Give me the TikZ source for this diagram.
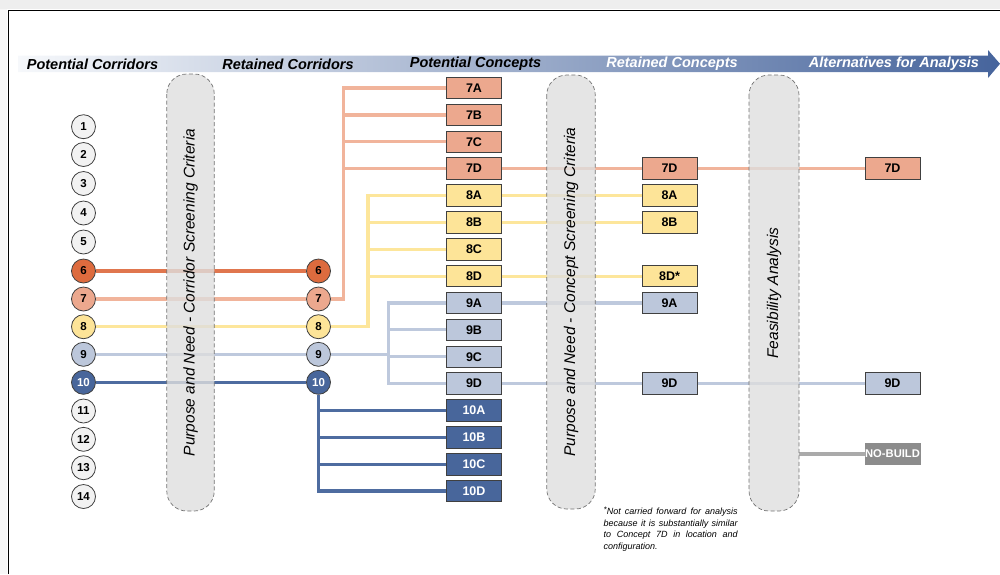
\documentclass[tikz,border=0pt]{standalone}
\usepackage{fontspec}
\setmainfont{Liberation Sans}
\usetikzlibrary{calc}
\definecolor{c6f}{RGB}{221,107,62}
\definecolor{c6l}{RGB}{224,118,78}
\definecolor{c7f}{RGB}{236,168,142}
\definecolor{c7l}{RGB}{241,180,155}
\definecolor{c8f}{RGB}{253,228,152}
\definecolor{c8l}{RGB}{253,230,155}
\definecolor{c9f}{RGB}{188,199,219}
\definecolor{c9l}{RGB}{190,201,221}
\definecolor{c10f}{RGB}{72,102,155}
\definecolor{c10l}{RGB}{78,108,160}
\definecolor{grayc}{RGB}{242,242,242}
\definecolor{pillc}{RGB}{222,222,222}
\definecolor{nbf}{RGB}{140,140,140}
\definecolor{nbl}{RGB}{170,170,170}
\definecolor{barL}{RGB}{246,248,251}
\definecolor{barR}{RGB}{70,100,156}
\pgfdeclarelayer{bg}
\pgfdeclarelayer{mid}
\pgfsetlayers{bg,mid,main}
\begin{document}
\begin{tikzpicture}[x=1pt,y=-1pt,
  circ/.style={circle, draw=black!75, line width=0.8pt, minimum size=24pt, inner sep=0pt,
    font=\fontsize{11.5}{12}\selectfont\bfseries},
  cbox/.style={rectangle, draw=black!75, line width=0.8pt, minimum width=55pt, minimum height=21.5pt,
    inner sep=0pt, font=\fontsize{12.5}{13}\selectfont\bfseries},
  pill/.style={rectangle, rotate=90, draw=black!55, dash pattern=on 4pt off 2.5pt, line width=0.7pt,
    fill=pillc, fill opacity=0.8, text opacity=1, rounded corners=20pt, inner sep=0pt,
    font=\fontsize{15.5}{18}\selectfont\itshape},
  head/.style={font=\fontsize{14.5}{16}\selectfont\bfseries\itshape, inner sep=0pt},
  conn/.style={line width=3.2pt}
]
\useasboundingbox (0,0) rectangle (1000,574);

% ---------- circles: potential corridors
\foreach \n/\y in {1/126.7,2/154.5,3/183.5,4/213,5/242,11/411,12/439.3,13/467.7,14/496.5}
  \node[circ, fill=grayc] (pc\n) at (83.5,\y) {\n};
\node[circ, fill=c6f] (pc6) at (83.5,271) {6};
\node[circ, fill=c7f] (pc7) at (83.5,299) {7};
\node[circ, fill=c8f] (pc8) at (83.5,326.7) {8};
\node[circ, fill=c9f] (pc9) at (83.5,354.3) {9};
\node[circ, fill=c10f, text=white] (pc10) at (83.5,382.3) {10};
% retained corridors
\node[circ, fill=c6f] (rc6) at (318.5,271) {6};
\node[circ, fill=c7f] (rc7) at (318.5,299) {7};
\node[circ, fill=c8f] (rc8) at (318.5,326.7) {8};
\node[circ, fill=c9f] (rc9) at (318.5,354.3) {9};
\node[circ, fill=c10f, text=white] (rc10) at (318.5,382.3) {10};

% ---------- potential concepts
\foreach \l/\y in {7A/88,7B/114.9,7C/141.7,7D/168.6}
  \node[cbox, fill=c7f] (k\l) at (474,\y) {\l};
\foreach \l/\y in {8A/195.5,8B/222.4,8C/249.2,8D/276.1}
  \node[cbox, fill=c8f] (k\l) at (474,\y) {\l};
\foreach \l/\y in {9A/303,9B/329.8,9C/356.7,9D/383.6}
  \node[cbox, fill=c9f] (k\l) at (474,\y) {\l};
\foreach \l/\y in {10A/410.4,10B/437.3,10C/464.2,10D/491}
  \node[cbox, fill=c10f, text=white] (k\l) at (474,\y) {\l};

% ---------- retained concepts
\node[cbox, fill=c7f] (r7D) at (669.5,168.6) {7D};
\node[cbox, fill=c8f] (r8A) at (669.5,195.5) {8A};
\node[cbox, fill=c8f] (r8B) at (669.5,222.4) {8B};
\node[cbox, fill=c8f] (r8D) at (669.5,276.1) {8D*};
\node[cbox, fill=c9f] (r9A) at (669.5,303) {9A};
\node[cbox, fill=c9f] (r9D) at (669.5,383.6) {9D};

% ---------- alternatives
\node[cbox, fill=c7f] (a7D) at (892.5,168.6) {7D};
\node[cbox, fill=c9f] (a9D) at (892.5,383.6) {9D};
\node[cbox, fill=nbf, text=white, draw=black!45, font=\fontsize{11.2}{12}\selectfont\bfseries] (anb) at (892.5,454) {NO-BUILD};

% ---------- headings
\node[head] (h1) at (92.5,64) {Potential Corridors};
\node[head] (h2) at (288,64) {Retained Corridors};
\node[head] (h3) at (475.5,64) {Potential Concepts};
\node[head, text=white] (h4) at (672,64) {Retained Concepts};
\node[head, text=white] (h5) at (894,64) {Alternatives for Analysis};

% ---------- footnote
\node[anchor=north west, inner sep=0pt, text width=134pt, align=justify,
  font=\fontsize{9}{11.5}\selectfont\itshape] (fn) at (603.5,508)
  {\smash{\raisebox{0.3em}{\fontsize{8}{8}\selectfont *}}Not carried forward for analysis\linebreak because it is substantially similar\linebreak to Concept 7D in location and\linebreak configuration.};

% ---------- screening pills
\begin{pgfonlayer}{mid}
\node[pill, minimum width=437pt, minimum height=47.5pt] (p1) at (190.5,292.5)
  {Purpose and Need - Corridor Screening Criteria};
\node[pill, minimum width=434pt, minimum height=48.5pt] (p2) at (571,292)
  {Purpose and Need - Concept Screening Criteria};
\node[pill, minimum width=436pt, minimum height=50pt] (p3) at (774,293)
  {Feasibility Analysis};
\end{pgfonlayer}

% ---------- background, frame and connectors
\begin{pgfonlayer}{bg}
\fill[gray!13] (0,0) rectangle (1000,8.5);
\fill[gray!6] (0,8.5) rectangle (7,574);
\draw[line width=1.6pt] (8.5,574) -- (8.5,10.5) -- (1000,10.5);
\shade[left color=barL, right color=barR]
  (18,55.5) -- (988,55.5) -- (988,50) -- (1000,63.8) -- (988,78) -- (988,72) -- (18,72) -- cycle;

\coordinate (b7) at (343.5,0);
\coordinate (b8) at (368,0);
\coordinate (b9) at (388.5,0);

\draw[conn, c6l] (pc6.east) -- (rc6.west);
\draw[conn, c7l] (pc7.east) -- (rc7.west);
\draw[conn, c8l] (pc8.east) -- (rc8.west);
\draw[conn, c9l] (pc9.east) -- (rc9.west);
\draw[conn, c10l] (pc10.east) -- (rc10.west);

% corridor 7
\draw[conn, c7l, line join=miter] (rc7.east) -- (rc7.east -| b7) -- (b7 |- k7A.west) -- (k7A.west);
\foreach \l in {7B,7C,7D} \draw[conn, c7l] (b7 |- k\l.west) -- (k\l.west);
% corridor 8
\draw[conn, c8l, line join=miter] (rc8.east) -- (rc8.east -| b8) -- (b8 |- k8A.west) -- (k8A.west);
\foreach \l in {8B,8C,8D} \draw[conn, c8l] (b8 |- k\l.west) -- (k\l.west);
% corridor 9
\draw[conn, c9l] (rc9.east) -- (rc9.east -| b9);
\draw[conn, c9l, line cap=rect] (b9 |- k9A.west) -- (b9 |- k9D.west);
\foreach \l in {9A,9B,9C,9D} \draw[conn, c9l] (b9 |- k\l.west) -- (k\l.west);
% corridor 10
\draw[conn, c10l, line join=miter] (rc10.south) -- (rc10.south |- k10D.west) -- (k10D.west);
\foreach \l in {10A,10B,10C} \draw[conn, c10l] (rc10.south |- k\l.west) -- (k\l.west);

% retained concepts
\draw[conn, c7l] (k7D.east) -- (r7D.west);
\draw[conn, c7l] (r7D.east) -- (a7D.west);
\draw[conn, c8l] (k8A.east) -- (r8A.west);
\draw[conn, c8l] (k8B.east) -- (r8B.west);
\draw[conn, c8l] (k8D.east) -- (r8D.west);
\draw[conn, c9l] (k9A.east) -- (r9A.west);
\draw[conn, c9l] (k9D.east) -- (r9D.west);
\draw[conn, c9l] (r9D.east) -- (a9D.west);
\draw[conn, nbl] (p3.south |- anb.west) -- (anb.west);
\end{pgfonlayer}
\end{tikzpicture}
\end{document}
